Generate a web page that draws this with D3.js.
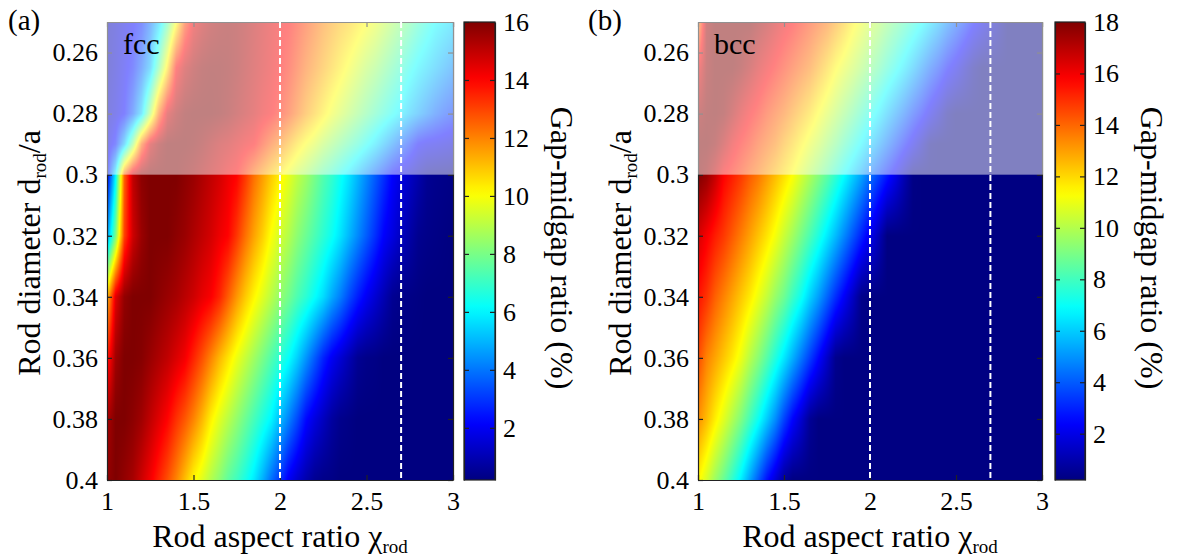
<!DOCTYPE html>
<html>
<head>
<meta charset="utf-8">
<script src="https://cdn.jsdelivr.net/npm/d3@7"></script>
<style>
  body { margin: 0; background: #fff; }
  text { font-family: "Liberation Serif", "Times New Roman", serif; fill: #000; }
</style>
</head>
<body>
<svg id="fig" width="1181" height="558"></svg>
<script>
// grid columns: rod aspect ratio
const aspectRatio = [1.00, 1.05, 1.10, 1.15, 1.20, 1.25, 1.30, 1.35, 1.40, 1.45,
  1.50, 1.55, 1.60, 1.65, 1.70, 1.75, 1.80, 1.85, 1.90, 1.95,
  2.00, 2.05, 2.10, 2.15, 2.20, 2.25, 2.30, 2.35, 2.40, 2.45,
  2.50, 2.55, 2.60, 2.65, 2.70, 2.75, 2.80, 2.85, 2.90, 2.95, 3.00];
// grid rows: rod diameter d/a
const rodDiameter = [0.25, 0.265, 0.28, 0.29, 0.30, 0.32, 0.34, 0.36, 0.38, 0.40];

// gap-midgap ratio (%), one row per rodDiameter
const fccGap = [
  [1.0,1.3,1.7,2.1,2.6,3.8,5.3,7.4,10.0,12.9, 14.4,15.0,15.4,15.6,15.7,15.6,15.4,15.1,14.8,14.5, 14.2,14.0,13.5,13.0,12.5,12.0,11.6,11.2,10.9,10.5, 10.1,9.7,9.2,8.7,8.2,7.7,7.1,6.6,6.1,5.8, 5.5],
  [1.0,1.4,1.9,2.5,3.6,5.0,7.7,10.6,14.0,15.0, 15.5,15.8,15.9,15.9,15.8,15.6,15.3,15.0,14.7,14.4, 14.05,13.6,13.0,12.4,11.9,11.4,10.9,10.4,9.9,9.4, 8.9,8.5,8.0,7.5,7.0,6.4,5.9,5.5,5.1,4.7, 4.3],
  [1.2,1.6,2.2,3.5,5.4,8.7,12.4,14.8,15.5,15.9, 16.0,16.0,16.0,15.9,15.7,15.4,15.1,14.8,14.4,14.1, 13.6,13.0,12.3,11.6,11.0,10.4,9.8,9.3,8.8,8.3, 7.8,7.3,6.8,6.3,5.8,5.2,4.7,4.2,3.7,3.3, 3.0],
  [1.5,2.5,5.0,8.3,12.5,14.8,15.6,16.0,16.0,16.0, 15.9,15.7,15.4,15.1,14.9,14.6,14.3,14.05,13.3,12.6, 12.0,11.3,10.6,10.0,9.5,8.9,8.4,7.9,7.4,6.9, 6.3,5.7,5.0,4.3,3.6,2.9,2.15,1.9,1.8,1.65, 1.5],
  [2.0,6.0,12.5,15.0,15.8,16.0,16.0,16.0,16.0,15.8, 15.6,15.3,15.0,14.7,14.3,14.0,13.2,12.3,11.6,10.9, 10.3,9.7,9.1,8.6,8.0,7.4,6.9,6.3,5.7,5.0, 4.3,3.6,2.9,2.15,1.7,1.3,0.9,0.5,0.4,0.35, 0.3],
  [4.5,8.0,13.0,14.8,15.6,16.0,16.0,16.0,15.8,15.6, 15.3,15.0,14.7,14.3,14.0,13.2,12.3,11.5,10.8,10.0, 9.4,8.9,8.3,7.8,7.3,6.8,6.3,5.7,5.0,4.3, 3.6,2.9,2.15,1.7,1.2,0.8,0.45,0.35,0.3,0.25, 0.2],
  [11.0,14.5,15.7,16.0,16.0,16.0,15.8,15.6,15.4,15.1, 14.8,14.4,14.1,13.5,12.6,11.7,10.9,10.2,9.6,9.0, 8.4,7.9,7.3,6.8,6.2,5.6,4.8,4.1,3.3,2.6, 2.0,1.5,1.0,0.5,0.35,0.3,0.25,0.2,0.2,0.2, 0.2],
  [13.5,15.5,16.0,16.0,15.9,15.6,15.3,15.0,14.6,14.2, 13.5,12.8,12.0,11.2,10.5,9.8,9.2,8.6,8.0,7.4, 6.8,6.2,5.4,4.5,3.6,2.7,2.0,1.5,1.0,0.5, 0.35,0.3,0.2,0.2,0.2,0.2,0.2,0.2,0.2,0.2, 0.2],
  [15.3,16.0,16.0,15.8,15.5,15.0,14.5,14.0,13.3,12.7, 12.0,11.2,10.3,9.6,9.0,8.4,7.8,7.2,6.6,6.0, 5.1,4.2,3.3,2.3,1.7,1.2,0.7,0.4,0.3,0.2, 0.2,0.2,0.2,0.2,0.2,0.2,0.2,0.2,0.2,0.2, 0.2],
  [15.7,16.0,15.7,15.4,14.8,14.2,13.5,12.8,12.0,11.1, 10.2,9.6,8.9,8.3,7.6,7.1,6.5,5.8,4.9,3.9, 3.0,2.0,1.4,0.9,0.5,0.35,0.3,0.2,0.2,0.2, 0.2,0.2,0.2,0.2,0.2,0.2,0.2,0.2,0.2,0.2, 0.2]
];

// gap-midgap ratio (%)
const bccGap = [
  [13.0,17.5,18.0,18.0,18.0,18.0,18.0,17.6,17.2,16.7, 16.2,15.8,15.3,14.8,14.3,13.8,13.1,12.4,11.6,11.0, 10.4,9.9,9.3,8.75,8.2,7.6,7.0,6.3,5.6,4.8, 4.1,3.4,2.6,2.0,1.4,0.85,0.25,0.25,0.25,0.25, 0.25],
  [16.0,17.6,18.0,18.0,18.0,17.7,17.2,16.6,16.1,15.6, 15.1,14.6,14.1,13.6,12.9,12.2,11.45,10.85,10.3,9.7, 9.1,8.5,7.8,7.15,6.45,5.7,4.9,4.1,3.4,2.6, 2.0,1.3,0.65,0.25,0.25,0.25,0.25,0.25,0.25,0.25, 0.25],
  [17.5,17.9,18.0,17.8,17.2,16.5,15.9,15.4,14.8,14.3, 13.8,13.2,12.6,12.0,11.3,10.65,10.0,9.35,8.7,8.0, 7.3,6.6,5.8,5.05,4.3,3.5,2.8,2.0,1.3,0.55, 0.25,0.25,0.25,0.25,0.25,0.25,0.25,0.25,0.25,0.25, 0.25],
  [18.0,18.0,17.7,17.0,16.2,15.6,15.1,14.5,14.0,13.5, 12.8,12.2,11.55,10.9,10.3,9.6,8.95,8.2,7.5,6.75, 6.0,5.2,4.4,3.6,2.8,2.0,1.2,0.4,0.25,0.25, 0.25,0.25,0.25,0.25,0.25,0.25,0.25,0.25,0.25,0.25, 0.25],
  [18.0,17.6,16.8,15.8,15.3,14.8,14.2,13.7,13.1,12.5, 11.9,11.3,10.6,9.9,9.2,8.5,7.7,6.9,6.1,5.3, 4.4,3.6,2.8,2.0,1.1,0.3,0.25,0.25,0.25,0.25, 0.25,0.25,0.25,0.25,0.25,0.25,0.25,0.25,0.25,0.25, 0.25],
  [16.5,15.9,15.3,14.8,14.2,13.6,13.0,12.4,11.8,11.15, 10.4,9.7,8.95,8.2,7.4,6.55,5.7,4.8,3.9,3.0, 2.1,1.2,0.25,0.25,0.25,0.25,0.25,0.25,0.25,0.25, 0.25,0.25,0.25,0.25,0.25,0.25,0.25,0.25,0.25,0.25, 0.25],
  [15.5,14.9,14.1,13.5,12.9,12.3,11.7,11.0,10.3,9.5, 8.8,7.9,7.1,6.1,5.2,4.2,3.2,2.3,1.4,0.4, 0.25,0.25,0.25,0.25,0.25,0.25,0.25,0.25,0.25,0.25, 0.25,0.25,0.25,0.25,0.25,0.25,0.25,0.25,0.25,0.25, 0.25],
  [14.5,13.5,12.9,12.3,11.7,11.0,10.1,9.3,8.4,7.45, 6.5,5.5,4.5,3.5,2.5,1.5,0.45,0.25,0.25,0.25, 0.25,0.25,0.25,0.25,0.25,0.25,0.25,0.25,0.25,0.25, 0.25,0.25,0.25,0.25,0.25,0.25,0.25,0.25,0.25,0.25, 0.25],
  [13.3,12.5,11.6,10.8,9.95,9.1,8.1,7.1,6.0,4.9, 3.6,2.47,1.6,0.6,0.25,0.25,0.25,0.25,0.25,0.25, 0.25,0.25,0.25,0.25,0.25,0.25,0.25,0.25,0.25,0.25, 0.25,0.25,0.25,0.25,0.25,0.25,0.25,0.25,0.25,0.25, 0.25],
  [11.5,10.6,9.6,8.7,7.7,6.6,5.3,4.0,2.7,1.7, 0.65,0.25,0.25,0.25,0.25,0.25,0.25,0.25,0.25,0.25, 0.25,0.25,0.25,0.25,0.25,0.25,0.25,0.25,0.25,0.25, 0.25,0.25,0.25,0.25,0.25,0.25,0.25,0.25,0.25,0.25, 0.25]
];

const xTicks = [1, 1.5, 2, 2.5, 3];
const yTicks = [0.26, 0.28, 0.3, 0.32, 0.34, 0.36, 0.38, 0.4];
const fccBarTicks = [2, 4, 6, 8, 10, 12, 14, 16];
const bccBarTicks = [2, 4, 6, 8, 10, 12, 14, 16, 18];
const dashedAt = [2, 2.7];
const shadedUntil = 0.3;

const svg = d3.select("#fig");
const plotTop = 22, plotBottom = 480;
const serif = '"Liberation Serif", "Times New Roman", serif';

const jet = t => {
  const c = v => Math.max(0, Math.min(1, v)) * 255;
  return d3.rgb(c(1.5 - Math.abs(4 * t - 3)), c(1.5 - Math.abs(4 * t - 2)), c(1.5 - Math.abs(4 * t - 1)));
};

const sample = (grid, xv, dv) => {
  let i = Math.max(0, Math.min(aspectRatio.length - 2, d3.bisectRight(aspectRatio, xv) - 1));
  let j = Math.max(0, Math.min(rodDiameter.length - 2, d3.bisectRight(rodDiameter, dv) - 1));
  let tx = (xv - aspectRatio[i]) / (aspectRatio[i + 1] - aspectRatio[i]);
  let ty = (dv - rodDiameter[j]) / (rodDiameter[j + 1] - rodDiameter[j]);
  tx = Math.max(0, Math.min(1, tx));
  ty = Math.max(0, Math.min(1, ty));
  const a = (1 - tx) * grid[j][i] + tx * grid[j][i + 1];
  const b = (1 - tx) * grid[j + 1][i] + tx * grid[j + 1][i + 1];
  return (1 - ty) * a + ty * b;
};

const panels = [
  { label: "(a)", name: "fcc", gap: fccGap, barMax: 16, barTicks: fccBarTicks,
    left: 107, right: 453, barLeft: 464, barRight: 495, labelX: 8, yTitleX: 40, barTitleX: 551 },
  { label: "(b)", name: "bcc", gap: bccGap, barMax: 18, barTicks: bccBarTicks,
    left: 698, right: 1042, barLeft: 1055, barRight: 1085, labelX: 588, yTitleX: 631, barTitleX: 1141 }
];

const styleAxis = (g, labels) => {
  g.attr("font-family", serif).attr("font-size", null);
  g.select(".domain").attr("stroke", "#222").attr("stroke-width", 1.2);
  g.selectAll(".tick line").attr("stroke", "#222").attr("stroke-width", 1.2);
  g.selectAll(".tick text")
    .style("font-family", serif).style("font-size", "26px").attr("fill", "#000");
  if (!labels) g.selectAll(".tick text").remove();
};

const drawPanel = (p, idx) => {
  const x = d3.scaleLinear().domain([1, 3]).range([p.left, p.right]);
  const y = d3.scaleLinear().domain([0.25, 0.4]).range([plotTop, plotBottom]);
  const color = d3.scaleSequential(jet).domain([0.2, p.barMax]).clamp(true);
  const g = svg.append("g");

  // heat map
  const w = Math.round(p.right - p.left), h = plotBottom - plotTop;
  const canvas = document.createElement("canvas");
  canvas.width = w; canvas.height = h;
  const ctx = canvas.getContext("2d");
  const img = ctx.createImageData(w, h);
  for (let r = 0; r < h; r++) {
    const dv = y.invert(plotTop + r + 0.5);
    for (let c = 0; c < w; c++) {
      const col = color(sample(p.gap, x.invert(p.left + c + 0.5), dv));
      const k = (r * w + c) * 4;
      img.data[k] = col.r; img.data[k + 1] = col.g; img.data[k + 2] = col.b; img.data[k + 3] = 255;
    }
  }
  ctx.putImageData(img, 0, 0);
  g.append("image")
    .attr("x", p.left).attr("y", plotTop)
    .attr("width", w).attr("height", h)
    .attr("preserveAspectRatio", "none")
    .attr("href", canvas.toDataURL());

  // axes, ticks inward on all sides
  g.append("g").attr("transform", `translate(0,${plotBottom})`)
    .call(d3.axisBottom(x).tickValues(xTicks).tickSize(-5).tickSizeOuter(0).tickPadding(12).tickFormat(d => String(d)))
    .call(s => styleAxis(s, true));
  g.append("g").attr("transform", `translate(0,${plotTop})`)
    .call(d3.axisTop(x).tickValues(xTicks).tickSize(-5).tickSizeOuter(0))
    .call(s => styleAxis(s, false));
  g.append("g").attr("transform", `translate(${p.left},0)`)
    .call(d3.axisLeft(y).tickValues(yTicks).tickSize(-5).tickSizeOuter(0).tickPadding(9).tickFormat(d => String(d)))
    .call(s => styleAxis(s, true));
  g.append("g").attr("transform", `translate(${p.right},0)`)
    .call(d3.axisRight(y).tickValues(yTicks).tickSize(-5).tickSizeOuter(0))
    .call(s => styleAxis(s, false));

  // translucent white veil over d < 0.3
  g.append("rect")
    .attr("x", x(1) - 1).attr("y", y(0.25) - 1)
    .attr("width", x(3) - x(1) + 2).attr("height", y(shadedUntil) - y(0.25) + 1)
    .attr("fill", "#fff").attr("opacity", 0.5);

  g.selectAll(".dash").data(dashedAt).enter().append("line")
    .attr("x1", d => x(d)).attr("x2", d => x(d))
    .attr("y1", plotTop).attr("y2", plotBottom)
    .attr("stroke", "#fff").attr("stroke-width", 2).attr("stroke-dasharray", "6,3");

  g.append("text").attr("x", p.left + 16).attr("y", 54).style("font-size", "30px").text(p.name);
  g.append("text").attr("x", p.labelX).attr("y", 30).style("font-size", "29px").text(p.label);

  // axis titles
  const xt = g.append("text").attr("x", (p.left + p.right) / 2).attr("y", 547)
    .attr("text-anchor", "middle").style("font-size", "32px");
  xt.append("tspan").text("Rod aspect ratio \u03C7");
  xt.append("tspan").attr("dy", 6).style("font-size", "19px").text("rod");

  const yt = g.append("text").attr("transform", `translate(${p.yTitleX},253) rotate(-90)`)
    .attr("text-anchor", "middle").style("font-size", "32px");
  yt.append("tspan").text("Rod diameter d");
  yt.append("tspan").attr("dy", 6).style("font-size", "19px").text("rod");
  yt.append("tspan").attr("dy", -6).text("/a");

  // colour bar
  const cy = d3.scaleLinear().domain([0.2, p.barMax]).range([plotBottom, plotTop]);
  const gradId = "grad" + idx;
  const grad = svg.append("defs").append("linearGradient").attr("id", gradId)
    .attr("x1", 0).attr("y1", 1).attr("x2", 0).attr("y2", 0);
  grad.selectAll("stop").data(d3.range(0, 1.0001, 0.02)).enter().append("stop")
    .attr("offset", d => d)
    .attr("stop-color", d => color(cy.domain()[0] + d * (cy.domain()[1] - cy.domain()[0])).toString());
  g.append("rect")
    .attr("x", p.barLeft).attr("y", plotTop)
    .attr("width", p.barRight - p.barLeft).attr("height", plotBottom - plotTop)
    .attr("fill", `url(#${gradId})`);
  g.append("g").attr("transform", `translate(${p.barRight},0)`)
    .call(d3.axisRight(cy).tickValues(p.barTicks).tickSize(-5).tickSizeOuter(0).tickPadding(8))
    .call(s => styleAxis(s, true));
  g.append("g").attr("transform", `translate(${p.barLeft},0)`)
    .call(d3.axisLeft(cy).tickValues(p.barTicks).tickSize(-5).tickSizeOuter(0))
    .call(s => styleAxis(s, false));
  g.append("rect")
    .attr("x", p.barLeft).attr("y", plotTop)
    .attr("width", p.barRight - p.barLeft).attr("height", plotBottom - plotTop)
    .attr("fill", "none").attr("stroke", "#222").attr("stroke-width", 1.2);

  g.append("text").attr("transform", `translate(${p.barTitleX},248) rotate(90)`)
    .attr("text-anchor", "middle").style("font-size", "32px")
    .text("Gap-midgap ratio (%)");
};

panels.forEach(drawPanel);
</script>
</body>
</html>
